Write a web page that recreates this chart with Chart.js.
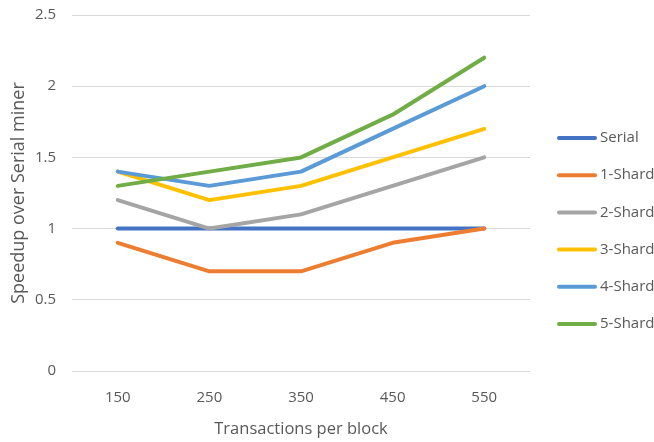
<!DOCTYPE html>
<html>
<head>
<meta charset="utf-8">
<script src="https://cdn.jsdelivr.net/npm/chart.js@4"></script>
<style>
  html, body { margin: 0; padding: 0; background: #fff; }
  #wrap { width: 654px; height: 442px; }
</style>
</head>
<body>
<div id="wrap"><canvas id="speedupChart" width="654" height="442"></canvas></div>
<script>
// categories (transactions per block)
const txPerBlock = ["150", "250", "350", "450", "550"];

// speedup values per series
const serial = [1, 1, 1, 1, 1];
const shard1 = [0.9, 0.7, 0.7, 0.9, 1.0];
const shard2 = [1.2, 1.0, 1.1, 1.3, 1.5];
const shard3 = [1.4, 1.2, 1.3, 1.5, 1.7];
const shard4 = [1.4, 1.3, 1.4, 1.7, 2.0];
const shard5 = [1.3, 1.4, 1.5, 1.8, 2.2];

const seriesNames = ["Serial", "1-Shard", "2-Shard", "3-Shard", "4-Shard", "5-Shard"];
const seriesColors = ["#4472C4", "#ED7D31", "#A5A5A5", "#FFC000", "#5B9BD5", "#70AD47"];
const seriesValues = [serial, shard1, shard2, shard3, shard4, shard5];

const textColor = "#595959";
const fontFamily = "'Open Sans', 'Noto Sans', sans-serif";

// excel style legend: short line + name, stacked on the right side
const sideLegend = {
    id: "sideLegend",
    afterDraw(chart) {
        const c = chart.ctx;
        const x0 = 557, lineLen = 40, y0 = 138, step = 37.2;
        c.save();
        c.font = "15px " + fontFamily;
        c.textBaseline = "middle";
        c.fillStyle = textColor;
        chart.data.datasets.forEach((ds, i) => {
            const y = y0 + i * step;
            c.strokeStyle = ds.borderColor;
            c.lineWidth = 4;
            c.lineCap = "round";
            c.beginPath();
            c.moveTo(x0 + 2, y);
            c.lineTo(x0 + lineLen - 2, y);
            c.stroke();
            c.fillText(ds.label, x0 + lineLen + 3, y);
        });
        c.restore();
    }
};

const ctx = document.getElementById("speedupChart").getContext("2d");
new Chart(ctx, {
    type: "line",
    data: {
        labels: txPerBlock,
        datasets: seriesValues.map((vals, i) => ({
            label: seriesNames[i],
            data: vals,
            borderColor: seriesColors[i],
            backgroundColor: seriesColors[i],
            borderWidth: 4,
            borderCapStyle: "round",
            borderJoinStyle: "round",
            pointRadius: 0,
            tension: 0,
            order: seriesValues.length - i, // later series drawn on top
        })),
    },
    options: {
        responsive: false,
        animation: false,
        layout: {
            padding: { left: 8, right: 124, top: 15, bottom: 0 },
        },
        plugins: {
            legend: { display: false },
            tooltip: { enabled: false },
        },
        scales: {
            x: {
                offset: true,
                grid: { display: false, drawTicks: false },
                border: { display: false },
                ticks: {
                    color: textColor,
                    font: { family: fontFamily, size: 15 },
                    padding: 18,
                },
                title: {
                    display: true,
                    text: "Transactions per block",
                    color: textColor,
                    font: { family: fontFamily, size: 16.5 },
                    padding: { top: 4, bottom: 3 },
                },
                afterFit: scale => { scale.height = 71; },
            },
            y: {
                min: 0,
                max: 2.5,
                grid: { color: "#d9d9d9", lineWidth: 1, drawTicks: false },
                border: { display: false },
                ticks: {
                    stepSize: 0.5,
                    color: textColor,
                    font: { family: fontFamily, size: 15 },
                    padding: 16,
                    callback: value => String(value),
                },
                title: {
                    display: true,
                    text: "Speedup over Serial miner",
                    color: textColor,
                    font: { family: fontFamily, size: 18 },
                    padding: { top: 0, bottom: 6 },
                },
                afterFit: scale => {
                    scale.width = 64;
                    scale.paddingTop = 0;
                    scale.paddingBottom = 0;
                },
            },
        },
    },
    plugins: [sideLegend],
});
</script>
</body>
</html>
